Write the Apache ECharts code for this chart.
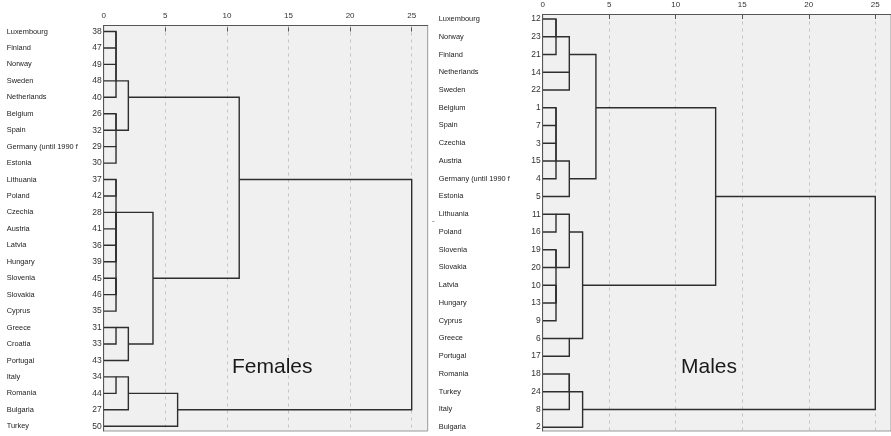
<!DOCTYPE html>
<html><head><meta charset="utf-8">
<script src="https://cdn.jsdelivr.net/npm/echarts@6/dist/echarts.min.js"></script>
<style>html,body{margin:0;padding:0;background:#fff}#chart{width:891px;height:436px}</style>
</head><body><div id="chart"></div>
<script>
// ---- data ----
const femaleCountries = ['Luxembourg','Finland','Norway','Sweden','Netherlands','Belgium','Spain','Germany (until 1990 f','Estonia','Lithuania','Poland','Czechia','Austria','Latvia','Hungary','Slovenia','Slovakia','Cyprus','Greece','Croatia','Portugal','Italy','Romania','Bulgaria','Turkey'];
const femaleCaseIds = [38,47,49,48,40,26,32,29,30,37,42,28,41,36,39,45,46,35,31,33,43,34,44,27,50];
// agglomeration schedule: [child A, child B, rescaled distance]; child < n is a case row, child >= n is merge (child - n)
const femaleMerges = [
  [0,1,1],[25,2,1],[26,3,1],[27,4,1],
  [5,6,1],[7,8,1],[29,30,1],
  [28,31,2],
  [9,10,1],[11,12,1],[13,14,1],[34,35,1],[15,16,1],[37,17,1],[36,38,1],[33,39,1],
  [18,19,1],[41,20,2],
  [40,42,4],
  [32,43,11],
  [21,22,1],[45,23,2],[46,24,6],
  [44,47,25]
];
const maleCountries = ['Luxembourg','Norway','Finland','Netherlands','Sweden','Belgium','Spain','Czechia','Austria','Germany (until 1990 f','Estonia','Lithuania','Poland','Slovenia','Slovakia','Latvia','Hungary','Cyprus','Greece','Portugal','Romania','Turkey','Italy','Bulgaria'];
const maleCaseIds = [12,23,21,14,22,1,7,3,15,4,5,11,16,19,20,10,13,9,6,17,18,24,8,2];
const maleMerges = [
  [0,1,1],[24,2,1],[3,4,2],[25,26,2],
  [5,6,1],[28,7,1],[29,8,1],[30,9,1],[31,10,2],
  [27,32,4],
  [11,12,1],[13,14,1],[15,16,1],[36,17,1],[35,37,1],[34,38,2],
  [18,19,2],[39,40,3],
  [33,41,13],
  [20,21,2],[43,22,2],[44,23,3],
  [42,45,25]
];
const tickValues = [0,5,10,15,20,25];
const panelTitles = ['Females','Males'];

// ---- build dendrogram segments from the schedule ----
function buildSegments(merges, n){
  const rowOf = [], hOf = [];
  for (let i=0;i<n;i++){ rowOf[i]=i; hOf[i]=0; }
  const out = [];
  merges.forEach(function(m,k){
    const a=m[0], b=m[1], h=m[2];
    const ya=rowOf[a], yb=rowOf[b];
    out.push([hOf[a], ya, h, yb, hOf[b]]);
    rowOf[n+k]=Math.floor((ya+yb)/2);
    hOf[n+k]=h;
  });
  return out;
}
const femaleSegs = buildSegments(femaleMerges, femaleCountries.length);
const maleSegs = buildSegments(maleMerges, maleCountries.length);

function renderDendro(params, api){
  const pts = [
    [api.value(0),api.value(1)],[api.value(2),api.value(1)],
    [api.value(2),api.value(3)],[api.value(4),api.value(3)]
  ].map(function(p){ return api.coord(p); });
  return {type:'polyline', shape:{points:pts}, style:{stroke:'#2e2e2e', lineWidth:1.4, fill:null}};
}

const FONT = 'Liberation Sans, Arial, sans-serif';
const tMin = tickValues[0], tMax = tickValues[tickValues.length-1], tInt = tickValues[1]-tickValues[0];

function panel(cfg){
  return {
    grids: [
      {left:cfg.left, top:cfg.top, width:cfg.frameWidth, height:cfg.height, show:true, backgroundColor:'#f0f0f0', borderColor:'#999', borderWidth:1},
      {left:cfg.left, top:cfg.top, width:cfg.dataWidth, height:cfg.height},
      {left:cfg.left, top:cfg.labelTop, width:2, height:cfg.labelHeight}
    ],
    x: [
      {type:'value', position:'top', min:0, max:1, z:5, axisLine:{show:true, lineStyle:{color:'#555', width:1}}, axisTick:{show:false}, axisLabel:{show:false}, splitLine:{show:false}},
      {type:'value', position:'top', min:tMin, max:tMax, interval:tInt, axisLine:{show:false},
        axisTick:{show:true, length:4, lineStyle:{color:'#555'}},
        axisLabel:{fontSize:8, margin:6, color:'#333', fontFamily:FONT},
        splitLine:{show:true, lineStyle:{type:[3,4], color:'#c4c4c4', width:1}}},
      {type:'value', show:false}
    ],
    y: [
      {type:'value', inverse:true, min:0, max:1, z:5, axisLine:{show:true, lineStyle:{color:'#555', width:1}}, axisTick:{show:false}, axisLabel:{show:false}, splitLine:{show:false}},
      {type:'value', inverse:true, min:cfg.yMin, max:cfg.yMax, show:false},
      {type:'category', inverse:true, data:cfg.countries, axisLine:{show:false}, axisTick:{show:false},
        axisLabel:{margin:2, interval:0,
          formatter:function(v, i){ return '{c|'+v+'}{n|'+cfg.ids[i]+'}'; },
          rich:{
            c:{width:cfg.cw, align:'left', fontSize:7.4, color:'#222', fontFamily:FONT},
            n:{width:14, align:'right', fontSize:8.5, color:'#333', fontFamily:FONT}
          }}}
    ]
  };
}

const pF = panel({left:103.7, top:25.5, frameWidth:324, dataWidth:308, height:405.5,
  yMin:-0.365, yMax:24.29, labelTop:23.275, labelHeight:411.25,
  countries:femaleCountries, ids:femaleCaseIds, cw:81});
const pM = panel({left:542.7, top:14.5, frameWidth:352, dataWidth:332.6, height:416.5,
  yMin:-0.254, yMax:23.21, labelTop:10.125, labelHeight:426,
  countries:maleCountries, ids:maleCaseIds, cw:88});

const grids = pF.grids.concat(pM.grids);
const xAxes = pF.x.map(function(a,i){ return Object.assign({gridIndex:i}, a); })
  .concat(pM.x.map(function(a,i){ return Object.assign({gridIndex:i+3}, a); }));
const yAxes = pF.y.map(function(a,i){ return Object.assign({gridIndex:i}, a); })
  .concat(pM.y.map(function(a,i){ return Object.assign({gridIndex:i+3}, a); }));

const chart = echarts.init(document.getElementById('chart'), null, {renderer:'canvas'});
chart.setOption({
  animation:false,
  backgroundColor:'#fff',
  title:[
    {text:panelTitles[0], left:232, top:357, padding:0, textStyle:{fontSize:21, fontWeight:'normal', color:'#1a1a1a', fontFamily:FONT}},
    {text:panelTitles[1], left:681, top:357, padding:0, textStyle:{fontSize:21, fontWeight:'normal', color:'#1a1a1a', fontFamily:FONT}}
  ],
  graphic:[{type:'text', left:432, top:217, style:{text:'-', fontSize:8, fill:'#555', fontFamily:FONT}}],
  grid:grids,
  xAxis:xAxes,
  yAxis:yAxes,
  series:[
    {type:'custom', xAxisIndex:1, yAxisIndex:1, data:femaleSegs, renderItem:renderDendro, encode:{x:[0,2,4], y:[1,3]}, silent:true, z:3},
    {type:'custom', xAxisIndex:4, yAxisIndex:4, data:maleSegs, renderItem:renderDendro, encode:{x:[0,2,4], y:[1,3]}, silent:true, z:3}
  ]
});
</script>
</body></html>
